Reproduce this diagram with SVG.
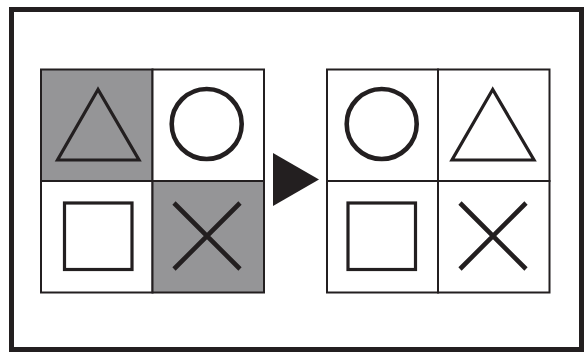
<svg xmlns="http://www.w3.org/2000/svg" width="584" height="352" viewBox="0 0 584 352">
<style>
.cell{stroke:#231f20;stroke-width:2}
.w{fill:#fff}
.g{fill:#959597}
.sh{fill:none;stroke:#231f20;stroke-width:3.2}
.ci{fill:none;stroke:#231f20;stroke-width:4.6}
.x{fill:none;stroke:#231f20;stroke-width:4.6}
</style>
<rect width="584" height="352" fill="#fff"/>
<rect x="11.5" y="9.5" width="570" height="340" fill="none" stroke="#231f20" stroke-width="5"/>
<g id="left-grid">
<g id="l-tri"><rect class="cell g" x="41" y="69.5" width="111.5" height="111.5"/><polygon class="sh" points="98,89.5 57.5,160 139,160"/></g>
<g id="l-circ"><rect class="cell w" x="152.5" y="69.5" width="111.5" height="111.5"/><circle class="ci" cx="206.7" cy="124" r="35"/></g>
<g id="l-sq"><rect class="cell w" x="41" y="181" width="111.5" height="111.5"/><rect class="sh" x="64.5" y="203" width="67.5" height="66.5"/></g>
<g id="l-x"><rect class="cell g" x="152.5" y="181" width="111.5" height="111.5"/><path class="x" d="M174,203 L240,269 M240,203 L174,269"/></g>
</g>
<g id="connectors">
<polygon points="273,153 319,179.5 273,206" fill="#231f20"/>
</g>
<g id="right-grid">
<g id="r-circ"><rect class="cell w" x="327" y="69.5" width="111" height="111.5"/><circle class="ci" cx="381.7" cy="124" r="35"/></g>
<g id="r-tri"><rect class="cell w" x="438" y="69.5" width="111.5" height="111.5"/><polygon class="sh" points="492.7,89.5 452,160 534,160"/></g>
<g id="r-sq"><rect class="cell w" x="327" y="181" width="111" height="111.5"/><rect class="sh" x="348" y="203" width="67.5" height="66.5"/></g>
<g id="r-x"><rect class="cell w" x="438" y="181" width="111.5" height="111.5"/><path class="x" d="M460,203 L526,269 M526,203 L460,269"/></g>
</g>
</svg>
